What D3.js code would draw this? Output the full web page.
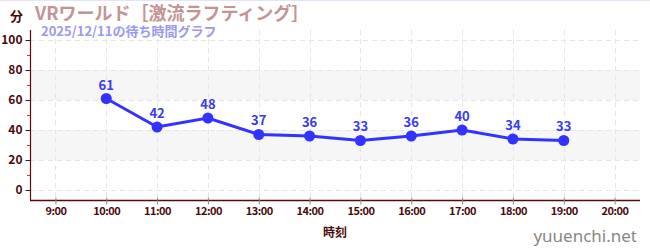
<!DOCTYPE html>
<html>
<head>
<meta charset="utf-8">
<script src="https://cdn.jsdelivr.net/npm/d3@7"></script>
<style>
  html, body { margin: 0; padding: 0; background: #fff; }
  svg { display: block; font-family: "Noto Sans CJK JP", "Noto Sans", sans-serif; }
</style>
</head>
<body>
<div id="chart"></div>
<script>
const hours = [10, 11, 12, 13, 14, 15, 16, 17, 18, 19];
const waits = [61, 42, 48, 37, 36, 33, 36, 40, 34, 33];
const xTicks = [9, 10, 11, 12, 13, 14, 15, 16, 17, 18, 19, 20];
const yTicks = [0, 20, 40, 60, 80, 100];
const yMinorTicks = [10, 30, 50, 70, 90];
const bands = [[20, 40], [60, 80]];

const width = 650;
const height = 250;
const margin = {top: 30, right: 10, bottom: 50, left: 30};

const svg = d3.select("#chart").append("svg")
  .attr("width", width)
  .attr("height", height);

const x = d3.scaleLinear()
  .domain([8.5, 20.5])
  .range([margin.left, width - margin.right]);

const y = d3.scaleLinear()
  .domain([-6.67, 106.67])
  .range([height - margin.bottom, margin.top]);

// faint top rule
svg.append("line")
  .attr("x1", 0).attr("x2", width)
  .attr("y1", 0.5).attr("y2", 0.5)
  .attr("stroke", "#e4e4fa");

// shaded bands
svg.selectAll("rect.band").data(bands).join("rect")
  .attr("class", "band")
  .attr("x", margin.left)
  .attr("width", width - margin.right - margin.left)
  .attr("y", (d) => y(d[1]))
  .attr("height", (d) => y(d[0]) - y(d[1]))
  .attr("fill", "#f6f6f6");

// grid
svg.selectAll("line.hgrid").data(yTicks).join("line")
  .attr("class", "hgrid")
  .attr("x1", margin.left).attr("x2", width - margin.right)
  .attr("y1", (d) => y(d) + 0.5).attr("y2", (d) => y(d) + 0.5)
  .attr("stroke", "#e6e6e6")
  .attr("stroke-dasharray", "5,4");

svg.selectAll("line.vgrid").data(xTicks).join("line")
  .attr("class", "vgrid")
  .attr("x1", (d) => Math.round(x(d)) + 0.5).attr("x2", (d) => Math.round(x(d)) + 0.5)
  .attr("y1", margin.top).attr("y2", height - margin.bottom)
  .attr("stroke", "#e6e6e6")
  .attr("stroke-dasharray", "5,4");

// y axis
const yAxis = svg.append("g")
  .attr("transform", `translate(${margin.left + 0.5},0)`)
  .call(d3.axisLeft(y).tickValues(yTicks).tickSize(5).tickPadding(3));
yAxis.select(".domain").attr("stroke", "#5a0a0a").attr("stroke-width", 1.2)
  .attr("d", `M0,${margin.top}V${height - margin.bottom}`);
yAxis.selectAll(".tick line").attr("stroke", "#222");
yAxis.selectAll(".tick text")
  .attr("fill", "#4a0a0a")
  .attr("font-size", 12)
  .attr("font-weight", "bold")
  .attr("font-family", "'Noto Sans CJK JP', sans-serif");

svg.append("g").selectAll("line").data(yMinorTicks).join("line")
  .attr("x1", margin.left - 3).attr("x2", margin.left)
  .attr("y1", (d) => y(d) + 0.5).attr("y2", (d) => y(d) + 0.5)
  .attr("stroke", "#e03030");

// x axis
const xAxis = svg.append("g")
  .attr("transform", `translate(0,${height - margin.bottom + 0.5})`)
  .call(d3.axisBottom(x).tickValues(xTicks).tickSize(4).tickPadding(3)
    .tickFormat((d) => `${d}:00`));
xAxis.select(".domain").attr("stroke", "#5a0a0a").attr("stroke-width", 1.5)
  .attr("d", `M${margin.left},0H${width - margin.right}`);
xAxis.selectAll(".tick line").attr("stroke", "#888").attr("y1", -3);
xAxis.selectAll(".tick text")
  .attr("fill", "#4a0a0a")
  .attr("font-size", 11)
  .attr("font-weight", "bold")
  .attr("letter-spacing", "-0.5")
  .attr("font-family", "'Noto Sans CJK JP', sans-serif");

// series
const data = hours.map((h, i) => ({h, v: waits[i]}));

svg.append("path")
  .datum(data)
  .attr("fill", "none")
  .attr("stroke", "#3333ff")
  .attr("stroke-width", 3)
  .attr("d", d3.line().x((d) => x(d.h)).y((d) => y(d.v)));

svg.selectAll("circle.pt").data(data).join("circle")
  .attr("class", "pt")
  .attr("cx", (d) => x(d.h))
  .attr("cy", (d) => y(d.v))
  .attr("r", 5.5)
  .attr("fill", "#3333ff");

svg.selectAll("text.val").data(data).join("text")
  .attr("class", "val")
  .attr("x", (d) => x(d.h))
  .attr("y", (d) => y(d.v) - 9)
  .attr("text-anchor", "middle")
  .attr("font-size", 13)
  .attr("font-weight", "bold")
  .attr("fill", "#3a3af0")
  .text((d) => d.v);

// titles
svg.append("text")
  .attr("x", 10).attr("y", 21)
  .attr("font-size", 13).attr("font-weight", "bold")
  .attr("fill", "#4a0a0a")
  .text("分");

svg.append("text")
  .attr("x", 35).attr("y", 20)
  .attr("font-size", 18).attr("font-weight", "bold")
  .attr("fill", "#c49494")
  .text("VRワールド［激流ラフティング］");

svg.append("text")
  .attr("x", 41).attr("y", 36)
  .attr("font-size", 13).attr("font-weight", "bold")
  .attr("fill", "#9a9af0")
  .text("2025/12/11の待ち時間グラフ");

svg.append("text")
  .attr("x", x(14.5)).attr("y", 237)
  .attr("text-anchor", "middle")
  .attr("font-size", 12).attr("font-weight", "bold")
  .attr("fill", "#4a0a0a")
  .text("時刻");

svg.append("text")
  .attr("x", 637).attr("y", 242)
  .attr("text-anchor", "end")
  .attr("font-size", 17)
  .attr("fill", "#888")
  .attr("font-family", "'Noto Sans', sans-serif")
  .text("yuuenchi.net");
</script>
</body>
</html>
